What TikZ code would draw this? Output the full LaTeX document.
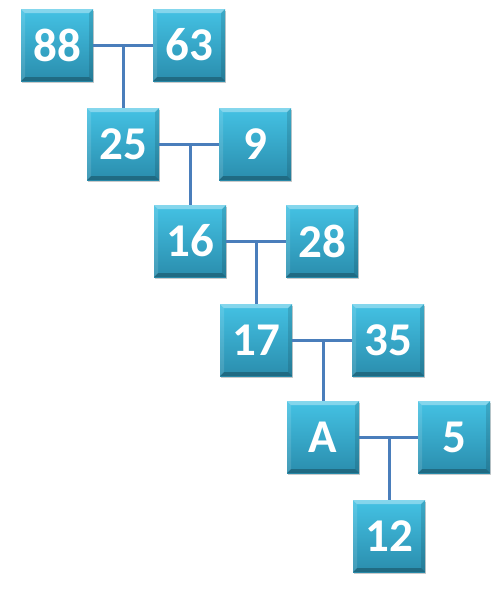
\documentclass[tikz,border=0pt]{standalone}
\usepackage{fontspec}
\setmainfont{Carlito}
\usetikzlibrary{shadows}
\definecolor{bxtop}{HTML}{44C2E4}
\definecolor{bxbot}{HTML}{2A8DAD}
\definecolor{lnk}{HTML}{4A7EBB}
\tikzset{
  nb/.style={minimum width=72pt, minimum height=72pt, inner sep=0pt,
    top color=bxtop, bottom color=bxbot, text=white,
    font=\fontsize{47}{47}\selectfont\bfseries,
    drop shadow={shadow xshift=1pt, shadow yshift=-2pt, opacity=0.35, fill=black!60},
    path picture={
      \fill[white,opacity=0.35] (path picture bounding box.north west) -- (path picture bounding box.north east)
        -- ([shift={(-4pt,-4pt)}]path picture bounding box.north east) -- ([shift={(4pt,-4pt)}]path picture bounding box.north west) -- cycle;
      \fill[black,opacity=0.25] (path picture bounding box.south west) -- (path picture bounding box.south east)
        -- ([shift={(-4pt,4pt)}]path picture bounding box.south east) -- ([shift={(4pt,4pt)}]path picture bounding box.south west) -- cycle;
      \fill[black,opacity=0.12] (path picture bounding box.north east) -- (path picture bounding box.south east)
        -- ([shift={(-4pt,4pt)}]path picture bounding box.south east) -- ([shift={(-4pt,-4pt)}]path picture bounding box.north east) -- cycle;
      \fill[white,opacity=0.12] (path picture bounding box.north west) -- (path picture bounding box.south west)
        -- ([shift={(4pt,4pt)}]path picture bounding box.south west) -- ([shift={(4pt,-4pt)}]path picture bounding box.north west) -- cycle;
    }},
  conn/.style={draw=lnk, line width=3pt}
}
\begin{document}
\begin{tikzpicture}[x=1pt,y=-1pt]
\useasboundingbox (0,0) rectangle (500,600);
\node[nb] (n88) at (57,45) {88};
\node[nb] (n63) at (189,45) {63};
\node[nb] (n25) at (123,144) {25};
\node[nb] (n9)  at (255,144) {9};
\node[nb] (n16) at (190,241) {16};
\node[nb] (n28) at (322,241) {28};
\node[nb] (n17) at (256,340) {17};
\node[nb] (n35) at (388,340) {35};
\node[nb] (nA)  at (323,437) {A};
\node[nb] (n5)  at (454,437) {5};
\node[nb] (n12) at (389,536) {12};
\draw[conn] (n88.east) -- (n63.west);
\draw[conn] (n25.north) -- (n25.north |- n88.east);
\draw[conn] (n25.east) -- (n9.west);
\draw[conn] (n16.north) -- (n16.north |- n25.east);
\draw[conn] (n16.east) -- (n28.west);
\draw[conn] (n17.north) -- (n17.north |- n16.east);
\draw[conn] (n17.east) -- (n35.west);
\draw[conn] (nA.north) -- (nA.north |- n17.east);
\draw[conn] (nA.east) -- (n5.west);
\draw[conn] (n12.north) -- (n12.north |- nA.east);
\end{tikzpicture}
\end{document}
